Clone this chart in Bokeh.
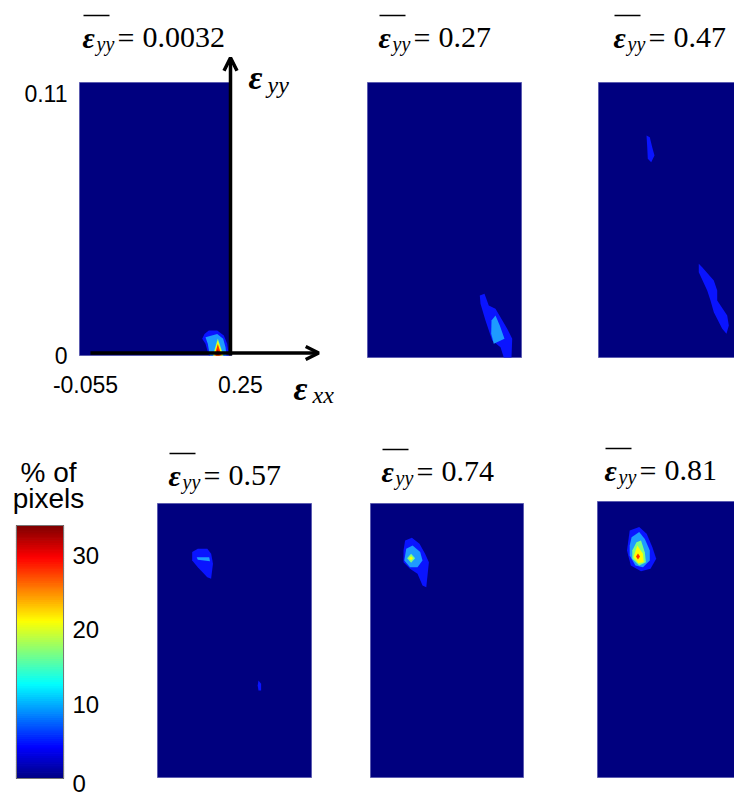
import numpy as np
from bokeh.plotting import figure
from bokeh.models import Range1d, Arrow, OpenHead
from bokeh.core.properties import value
from bokeh.embed import file_html
from bokeh.resources import INLINE

# ---------------- data ----------------
EXX_LIM = [-0.055, 0.25]
EYY_LIM = [0.0, 0.11]
MEAN_EYY = ["0.0032", "0.27", "0.47", "0.57", "0.74", "0.81"]
X_TICKS = [-0.055, 0.25]
X_TICK_LABELS = ["-0.055", "0.25"]
Y_TICKS = [0.0, 0.11]
Y_TICK_LABELS = ["0", "0.11"]
CBAR_MAX = 34
CBAR_TICKS = [0, 10, 20, 30]

# filled contour level colours (jet)
LEVEL_COLORS = ["#00007f", "#0a14ff", "#1e9bff", "#7dff82", "#ffff00", "#ff3000", "#a00000"]

# filled contour regions: (level, exx values, eyy values)
PANEL1 = [
    (1, [0.1912, 0.1958, 0.2045, 0.2213, 0.2346, 0.2414, 0.2446, 0.2045, 0.1978],
        [0.0067, 0.0087, 0.0101, 0.0101, 0.0081, 0.0047, 0.0, 0.0, 0.0047]),
    (2, [0.1978, 0.2213, 0.2333, 0.2380, 0.2400, 0.2065, 0.2024],
        [0.0074, 0.0087, 0.0067, 0.0033, 0.0, 0.0, 0.0047]),
    (3, [0.2225, 0.2125, 0.2340], [0.0068, 0.0, 0.0]),
    (4, [0.2225, 0.2140, 0.2325], [0.0060, 0.0, 0.0]),
    (5, [0.2225, 0.2160, 0.2300], [0.0046, 0.0, 0.0]),
    (6, [0.2225, 0.2190, 0.2265], [0.0025, 0.0, 0.0]),
]
PANEL2 = [
    (1, [0.1674, 0.1767, 0.1852, 0.1985, 0.2217, 0.2316, 0.2302, 0.2149, 0.2084, 0.1920, 0.1787, 0.1688],
        [0.0248, 0.0255, 0.0208, 0.0195, 0.0115, 0.0075, 0.0, 0.0, 0.0041, 0.0068, 0.0148, 0.0215]),
    (2, [0.1906, 0.1985, 0.2070, 0.2163, 0.1951, 0.1900],
        [0.0148, 0.0168, 0.0128, 0.0075, 0.0055, 0.0095]),
]
PANEL3 = [
    (1, [0.0401, 0.0466, 0.0514, 0.0559, 0.0494, 0.0426, 0.0415],
        [0.0888, 0.0881, 0.0841, 0.0808, 0.0781, 0.0795, 0.0841]),
    (1, [0.1436, 0.1504, 0.1734, 0.1801, 0.1801, 0.1999, 0.2031, 0.1985, 0.1900, 0.1734, 0.1668, 0.1603, 0.1436],
        [0.0375, 0.0361, 0.0308, 0.0268, 0.0228, 0.0168, 0.0128, 0.0095, 0.0115, 0.0181, 0.0228, 0.0268, 0.0341]),
]
PANEL4 = [
    (1, [0.0137, 0.0248, 0.0436, 0.0512, 0.0549, 0.0512, 0.0436, 0.0248, 0.0137],
        [0.0905, 0.0918, 0.0918, 0.0898, 0.0858, 0.0798, 0.0804, 0.0844, 0.0871]),
    (2, [0.0226, 0.0474, 0.0490, 0.0248], [0.0884, 0.0884, 0.0868, 0.0874]),
    (1, [0.1450, 0.1502, 0.1502, 0.1450, 0.1434], [0.0389, 0.0376, 0.0349, 0.0349, 0.0369]),
]
PANEL5 = [
    (1, [0.0140, 0.0275, 0.0427, 0.0538, 0.0614, 0.0562, 0.0487, 0.0387, 0.0237, 0.0108, 0.0108],
        [0.0951, 0.0962, 0.0938, 0.0898, 0.0864, 0.0764, 0.0771, 0.0818, 0.0838, 0.0864, 0.0911]),
    (2, [0.0162, 0.0289, 0.0441, 0.0487, 0.0387, 0.0237, 0.0124],
        [0.0918, 0.0931, 0.0905, 0.0871, 0.0844, 0.0844, 0.0871]),
    (3, [0.0259, 0.0339, 0.0259, 0.0179], [0.0898, 0.0880, 0.0862, 0.0880]),
    (4, [0.0259, 0.0299, 0.0259, 0.0219], [0.0888, 0.0880, 0.0872, 0.0880]),
]
PANEL6 = [
    (1, [0.0088, 0.0276, 0.0424, 0.0537, 0.0613, 0.0500, 0.0312, 0.0110, 0.0034],
        [0.0984, 0.0998, 0.0971, 0.0918, 0.0872, 0.0832, 0.0822, 0.0845, 0.0905]),
    (2, [0.0125, 0.0276, 0.0387, 0.0486, 0.0486, 0.0351, 0.0201, 0.0088, 0.0088],
        [0.0958, 0.0978, 0.0951, 0.0905, 0.0865, 0.0838, 0.0845, 0.0885, 0.0925]),
    (3, [0.0222, 0.0312, 0.0387, 0.0409, 0.0276, 0.0139, 0.0139],
        [0.0938, 0.0945, 0.0898, 0.0858, 0.0845, 0.0872, 0.0905]),
    (4, [0.0238, 0.0351, 0.0367, 0.0260, 0.0163], [0.0925, 0.0892, 0.0858, 0.0854, 0.0878]),
    (5, [0.0252, 0.0292, 0.0252, 0.0212], [0.0893, 0.0881, 0.0869, 0.0881]),
]
PANELS = [PANEL1, PANEL2, PANEL3, PANEL4, PANEL5, PANEL6]

# ---------------- layout (page pixels) ----------------
W, H = 734, 797
OFF = 0
PANEL_BOX = [(79, 231, 82, 355), (367, 521, 82, 357), (598, 752, 82, 357),
             (157, 311, 503, 777), (370, 523, 503, 777), (597, 751, 501, 777)]
TITLE_AT = [(82, 37), (378, 37), (613, 37), (168, 475), (381, 471), (604, 470)]
CBAR_BOX = (16, 63, 525, 778)

p = figure(width=W, height=H, x_range=Range1d(0, W), y_range=Range1d(H, 0),
           x_axis_type=None, y_axis_type=None, output_backend="svg",
           toolbar_location=None, min_border=0)
p.outline_line_color = None
p.background_fill_color = "white"
p.border_fill_color = "white"

xr, yr = {}, {}


def box_ranges(name, box, xlim, ylim):
    l, r, t, b = (v - OFF for v in box)
    sx = (r - l) / (xlim[1] - xlim[0])
    x0 = xlim[0] - l / sx
    sy = (b - t) / (ylim[1] - ylim[0])
    y0 = ylim[0] - (H - b) / sy
    xr[name] = Range1d(x0, x0 + W / sx)
    yr[name] = Range1d(y0, y0 + H / sy)


for i, box in enumerate(PANEL_BOX):
    box_ranges(f"p{i}", box, EXX_LIM, EYY_LIM)
box_ranges("cb", CBAR_BOX, [0, 1], [0, CBAR_MAX])
p.extra_x_ranges = xr
p.extra_y_ranges = yr

# panels
for i, regions in enumerate(PANELS):
    n = f"p{i}"
    p.quad(left=EXX_LIM[0], right=EXX_LIM[1], bottom=EYY_LIM[0], top=EYY_LIM[1],
           fill_color=LEVEL_COLORS[0], line_color="#5c5cb0", line_width=1,
           x_range_name=n, y_range_name=n)
    for lev, xs, ys in regions:
        p.patch(xs, ys, fill_color=LEVEL_COLORS[lev], line_color=None,
                x_range_name=n, y_range_name=n)

# titles
SERIF = value("Liberation Serif")
for (xe, yb), val in zip(TITLE_AT, MEAN_EYY):
    x, y = xe - OFF, yb - OFF
    p.text(x=[x], y=[y], text=["ε"], text_font=SERIF, text_font_style="bold italic",
           text_font_size="30px", text_baseline="alphabetic", text_align="left", text_color="black")
    p.text(x=[x + 14], y=[y + 6], text=["yy"], text_font=SERIF, text_font_style="italic",
           text_font_size="20px", text_baseline="alphabetic", text_align="left", text_color="black")
    p.segment(x0=[x + 1], y0=[y - 22], x1=[x + 27], y1=[y - 22], line_width=1.5, line_color="black")
    p.text(x=[x + 35], y=[y], text=["="], text_font=SERIF, text_font_size="30px",
           text_baseline="alphabetic", text_align="left", text_color="black")
    p.text(x=[x + 60], y=[y], text=[val], text_font=SERIF, text_font_size="30px",
           text_baseline="alphabetic", text_align="left", text_color="black")

# panel-1 axes arrows and labels
SANS = value("Liberation Sans")
head = dict(size=13, line_width=3.5, line_color="black")
p.add_layout(Arrow(end=OpenHead(**head), x_start=0.248, y_start=0.0, x_end=0.248, y_end=0.120,
                   line_width=3.5, line_color="black", x_range_name="p0", y_range_name="p0"))
p.add_layout(Arrow(end=OpenHead(**head), x_start=-0.033, y_start=0.001, x_end=0.425, y_end=0.001,
                   line_width=3.5, line_color="black", x_range_name="p0", y_range_name="p0"))
p.text(x=[EXX_LIM[0]] * 2, y=Y_TICKS, text=Y_TICK_LABELS, x_offset=-12, y_offset=[0, 11],
       text_font=SANS, text_font_size="23px", text_align="right", text_baseline="middle",
       text_color="black", x_range_name="p0", y_range_name="p0")
p.text(x=X_TICKS, y=[EYY_LIM[0]] * 2, text=X_TICK_LABELS, x_offset=[6, 9], y_offset=20,
       text_font=SANS, text_font_size="23px", text_align="center", text_baseline="top",
       text_color="black", x_range_name="p0", y_range_name="p0")
# axis names
p.text(x=[248 - OFF], y=[77 - OFF], text=["ε"], text_font=SERIF, text_font_style="bold italic",
       text_font_size="34px", text_baseline="alphabetic", text_align="left", text_color="black")
p.text(x=[267 - OFF], y=[84 - OFF], text=["yy"], text_font=SERIF, text_font_style="italic",
       text_font_size="24px", text_baseline="alphabetic", text_align="left", text_color="black")
p.text(x=[293 - OFF], y=[388 - OFF], text=["ε"], text_font=SERIF, text_font_style="bold italic",
       text_font_size="34px", text_baseline="alphabetic", text_align="left", text_color="black")
p.text(x=[312 - OFF], y=[394 - OFF], text=["xx"], text_font=SERIF, text_font_style="italic",
       text_font_size="24px", text_baseline="alphabetic", text_align="left", text_color="black")


# colour bar (jet)
def jet_hex(t):
    r = np.clip(1.5 - abs(4 * t - 3), 0, 1)
    g = np.clip(1.5 - abs(4 * t - 2), 0, 1)
    b = np.clip(1.5 - abs(4 * t - 1), 0, 1)
    return "#%02x%02x%02x" % (int(r * 255), int(g * 255), int(b * 255))


N = 120
edges = np.linspace(0, CBAR_MAX, N + 1)
cols = [jet_hex((edges[k] + edges[k + 1]) / 2 / CBAR_MAX) for k in range(N)]
p.quad(left=0, right=1, bottom=edges[:-1], top=edges[1:], fill_color=cols, line_color=cols,
       line_width=1.2, x_range_name="cb", y_range_name="cb")
p.quad(left=[0], right=[1], bottom=[0], top=[CBAR_MAX], fill_color=None, line_color="#777777",
       line_width=1, x_range_name="cb", y_range_name="cb")
p.text(x=[1] * len(CBAR_TICKS), y=CBAR_TICKS, text=[str(t) for t in CBAR_TICKS],
       x_offset=9, y_offset=[5, 0, 0, 0], text_font=SANS, text_font_size="24px",
       text_align="left", text_baseline="middle", text_color="black",
       x_range_name="cb", y_range_name="cb")
p.text(x=[48 - OFF, 48 - OFF], y=[472 - OFF, 498 - OFF], text=["% of", "pixels"],
       text_font=SANS, text_font_size="28px", text_align="center", text_baseline="alphabetic",
       text_color="black")

open("out.html", "w").write(file_html(p, INLINE))
